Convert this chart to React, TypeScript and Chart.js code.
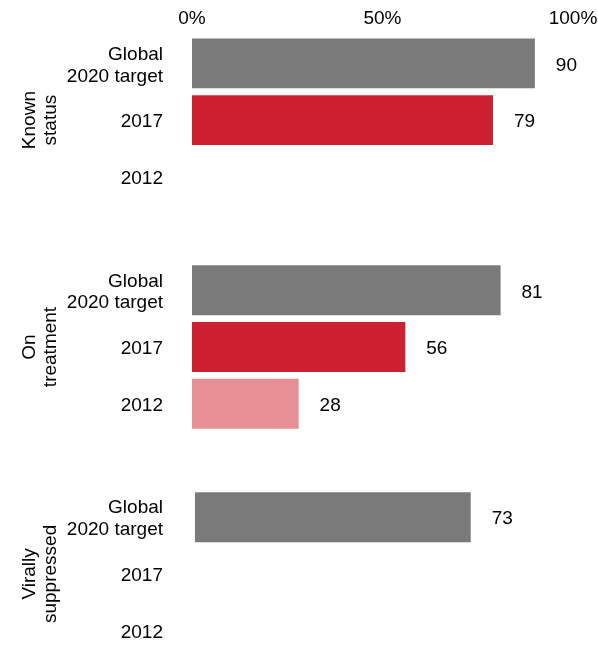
import React, { useEffect, useRef } from "react";
import { Chart, registerables } from "chart.js";
Chart.register(...registerables);

const groupLines: string[][] = [
  ["Known", "status"],
  ["On", "treatment"],
  ["Virally", "suppressed"],
];
const rowLabels: (string | string[])[] = [["Global", "2020 target"], "2017", "2012"];
const knownStatus: (number | null)[] = [90, 79, null];
const onTreatment: (number | null)[] = [81, 56, 28];
const virallySuppressed: (number | null)[] = [73, null, null];
const xTicks: number[] = [0, 50, 100];
const rowColors: string[] = ["#7a7a7a", "#cd2030", "#e68f95"];

const FONT = "'Liberation Sans', Arial, Helvetica, sans-serif";

export default function App() {
  const ref = useRef<HTMLCanvasElement | null>(null);

  useEffect(() => {
    if (!ref.current) return;
    const groupData = [knownStatus, onTreatment, virallySuppressed];
    const labels: (string | string[])[] = [];
    const mainData: (number | null)[] = [];
    const vsData: (number | null)[] = [];
    const colors: string[] = [];
    const groupCenters: number[] = [];
    groupData.forEach((gd, g) => {
      rowLabels.forEach((rl, r) => {
        if (r === 1) groupCenters.push(labels.length);
        labels.push(rl);
        mainData.push(g < 2 ? gd[r] : null);
        vsData.push(g === 2 ? gd[r] : null);
        colors.push(rowColors[r]);
      });
      if (g < groupData.length - 1) {
        labels.push("");
        mainData.push(null);
        vsData.push(null);
        colors.push("rgba(0,0,0,0)");
      }
    });

    const valueLabels = {
      id: "valueLabels",
      afterDatasetsDraw(chart: any) {
        const ctx = chart.ctx;
        ctx.save();
        ctx.font = `19px ${FONT}`;
        ctx.fillStyle = "#000";
        ctx.textAlign = "center";
        ctx.textBaseline = "middle";
        chart.data.datasets.forEach((ds: any, i: number) => {
          const meta = chart.getDatasetMeta(i);
          meta.data.forEach((el: any, j: number) => {
            const v = ds.data[j];
            if (v === null || v === undefined) return;
            ctx.fillText(String(v), el.x + 31.5, el.y + 2);
          });
        });
        ctx.restore();
      },
    };

    const groupTitles = {
      id: "groupTitles",
      afterDraw(chart: any) {
        const ctx = chart.ctx;
        const y = chart.scales.y;
        ctx.save();
        ctx.font = `19px ${FONT}`;
        ctx.fillStyle = "#000";
        ctx.textAlign = "center";
        ctx.textBaseline = "alphabetic";
        groupLines.forEach((lines, g) => {
          const yc = y.getPixelForValue(groupCenters[g]);
          const xs = [34.5, 55.5];
          lines.forEach((line, k) => {
            ctx.save();
            ctx.translate(xs[k], yc);
            ctx.rotate(-Math.PI / 2);
            ctx.fillText(line, 0, 0);
            ctx.restore();
          });
        });
        ctx.restore();
      },
    };

    const zeroPad = (scale: any) => {
      scale.paddingTop = 0;
      scale.paddingBottom = 0;
      scale.paddingLeft = 0;
      scale.paddingRight = 0;
    };

    const chart = new Chart(ref.current, {
      type: "bar",
      data: {
        labels,
        datasets: [
          {
            data: mainData,
            backgroundColor: colors,
            borderWidth: 0,
            barPercentage: 0.88,
            categoryPercentage: 1,
            grouped: false,
            xAxisID: "x",
          } as any,
          {
            data: vsData,
            backgroundColor: colors,
            borderWidth: 0,
            barPercentage: 0.88,
            categoryPercentage: 1,
            grouped: false,
            xAxisID: "x2",
          } as any,
        ],
      },
      options: {
        indexAxis: "y",
        animation: false,
        responsive: false,
        maintainAspectRatio: false,
        devicePixelRatio: 1,
        layout: { padding: { left: 0, right: 25, top: 0, bottom: 1 } },
        plugins: {
          legend: { display: false },
          tooltip: { enabled: false },
        },
        scales: {
          x: {
            type: "linear",
            position: "top",
            min: 0,
            max: 100,
            afterBuildTicks: (scale: any) => {
              scale.ticks = xTicks.map((v) => ({ value: v }));
            },
            afterFit: (scale: any) => {
              scale.height = 35;
              zeroPad(scale);
            },
            grid: { display: false, drawTicks: false },
            border: { display: false },
            ticks: {
              padding: 5,
              color: "#000",
              font: { family: FONT, size: 19, lineHeight: 1.15 },
              callback: (v: any) => `${v}%`,
            },
          },
          x2: {
            type: "linear",
            display: false,
            min: -0.79,
            max: 100.08,
          },
          y: {
            type: "category",
            afterFit: (scale: any) => {
              scale.width = 192;
              zeroPad(scale);
            },
            grid: { display: false, drawTicks: false },
            border: { display: false },
            ticks: {
              autoSkip: false,
              padding: 29,
              labelOffset: 2,
              color: "#000",
              font: { family: FONT, size: 19, lineHeight: 1.15 },
            },
          },
        },
      } as any,
      plugins: [valueLabels, groupTitles],
    });
    return () => chart.destroy();
  }, []);

  return (
    <div
      style={{
        position: "absolute",
        left: 0,
        top: 0,
        width: 598,
        height: 645,
        overflow: "hidden",
        background: "#fff",
      }}
    >
      <canvas ref={ref} width={598} height={660} style={{ display: "block", width: 598, height: 660 }} />
    </div>
  );
}
